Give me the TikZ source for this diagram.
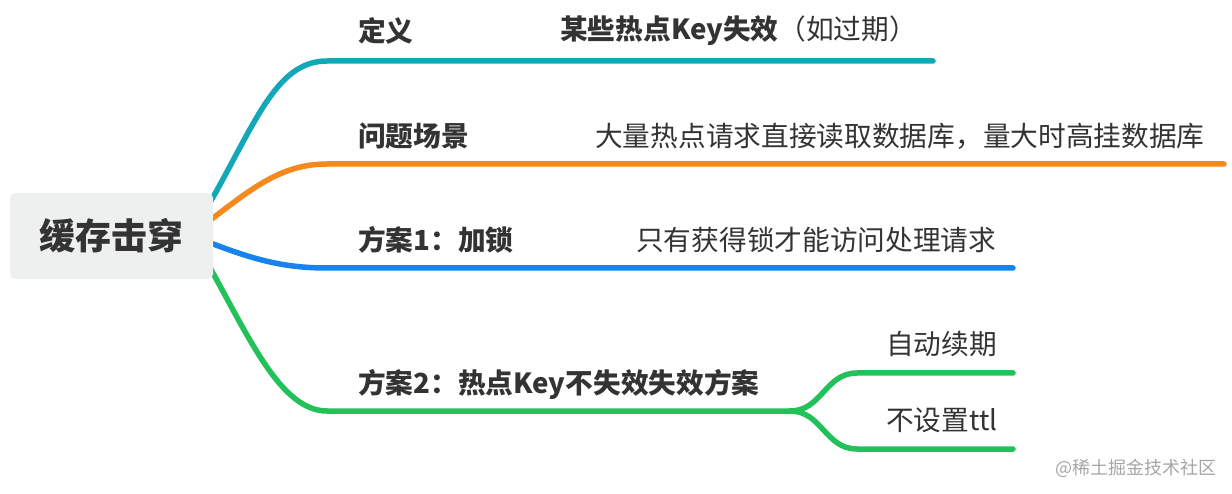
\documentclass[tikz,border=0pt]{standalone}
\usepackage{fontspec}
\setmainfont{Noto Sans CJK SC}
\usetikzlibrary{positioning, backgrounds}
\definecolor{tealbranch}{HTML}{13A8B7}
\definecolor{orangebranch}{HTML}{F5891E}
\definecolor{bluebranch}{HTML}{1784EE}
\definecolor{greenbranch}{HTML}{22C15A}
\definecolor{rootfill}{HTML}{EEF0F0}
\definecolor{inktext}{HTML}{333333}

\begin{document}
\begin{tikzpicture}[
      x=1pt, y=-1pt,
      root/.style={rectangle, fill=rootfill, rounded corners=5pt, minimum width=203pt, minimum height=86pt, font=\fontsize{36}{40}\selectfont\bfseries, text=inktext},
      label/.style={anchor=west, inner sep=0pt, font=\fontsize{27.7}{30}\selectfont, text=inktext},
      key_label/.style={label, font=\fontsize{27.7}{30}\selectfont\bfseries},
      branch/.style={draw, line width=5.5pt, line cap=round},
      mark_text/.style={anchor=west, inner sep=0pt, font=\fontsize{18}{20}\selectfont, text=black!35}
  ]
  \useasboundingbox (0,0) rectangle (1232,494);

  \node [root] (root) at (111.5,236) {缓存击穿};

  \node [key_label] (defKey) at (358,31) {定义};
  \node [label] (defText) at (560,31) {\textbf{某些热点Key失效}（如过期）};
  \node [key_label] (sceneKey) at (358,136) {问题场景};
  \node [label] (sceneText) at (595,136) {大量热点请求直接读取数据库，量大时高挂数据库};
  \node [key_label] (lockKey) at (358,240) {方案1：加锁};
  \node [label] (lockText) at (636,240) {只有获得锁才能访问处理请求};
  \node [key_label] (hotKey) at (358,384) {方案2：热点Key不失效失效方案};
  \node [label] (renewText) at (886,344) {自动续期};
  \node [label] (nottlText) at (886,420) {不设置ttl};
  \node [mark_text] (watermark) at (1055,468) {@稀土掘金技术社区};

  \coordinate (defEnd) at (933,61);
  \coordinate (sceneEnd) at (1224,164);
  \coordinate (lockEnd) at (1013,268);
  \coordinate (hotFork) at (790,411);
  \coordinate (renewEnd) at (1013,373);
  \coordinate (nottlEnd) at (1013,449);

  \begin{scope}[on background layer]
    \path [branch, tealbranch] ([xshift=-8pt,yshift=25pt]root.east) .. controls (255,125) and (275,61) .. (327,61) -- (defEnd);
    \path [branch, orangebranch] ([xshift=-8pt,yshift=12pt]root.east) .. controls (250,190) and (280,164) .. (327,164) -- (sceneEnd);
    \path [branch, bluebranch] ([xshift=-8pt,yshift=-5pt]root.east) .. controls (250,258) and (280,268) .. (327,268) -- (lockEnd);
    \path [branch, greenbranch] ([xshift=-8pt,yshift=-23pt]root.east) .. controls (248,335) and (280,411) .. (327,411) -- (hotFork);
    \path [branch, greenbranch] (hotFork) .. controls (822,411) and (825,373) .. (857,373) -- (renewEnd);
    \path [branch, greenbranch] (hotFork) .. controls (822,411) and (825,449) .. (857,449) -- (nottlEnd);
  \end{scope}

\end{tikzpicture}
\end{document}
